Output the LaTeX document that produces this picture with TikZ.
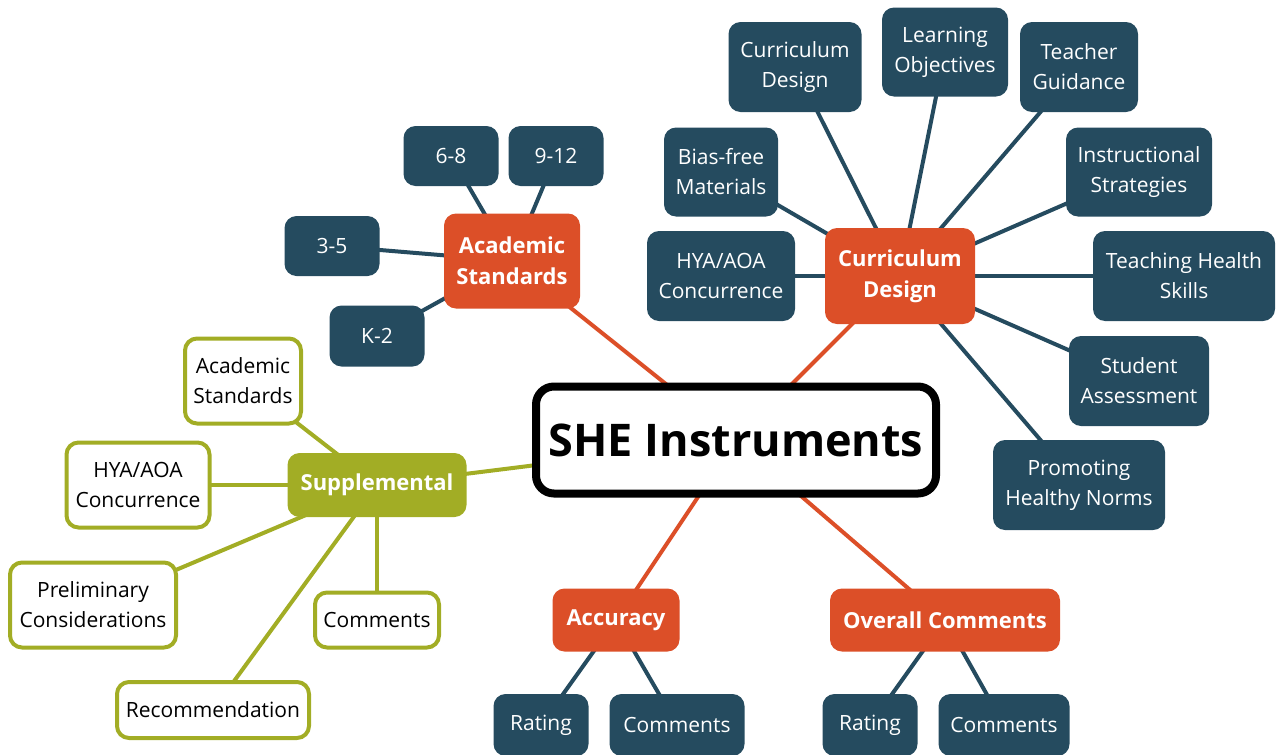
\documentclass[tikz,border=0pt]{standalone}
\usepackage{fontspec}
\setmainfont{Open Sans}
\usetikzlibrary{backgrounds}
\definecolor{org}{HTML}{DC4F28}
\definecolor{blu}{HTML}{254B5F}
\definecolor{olv}{HTML}{A2AD25}
\begin{document}
\begin{tikzpicture}[x=1pt,y=-1pt,
  base/.style={rectangle,rounded corners=12pt,align=center,inner sep=0pt,font=\fontsize{21}{30}\selectfont},
  bl/.style={base,fill=blu,text=white},
  og/.style={base,fill=org,text=white,font=\fontsize{22}{31}\selectfont\bfseries},
  sup/.style={base,fill=olv,text=white,font=\fontsize{22}{31}\selectfont\bfseries},
  gr/.style={base,draw=olv,line width=4pt,fill=white,text=black},
  ol/.style={org,line width=4pt},
  bll/.style={blu,line width=4pt},
  oll/.style={olv,line width=4pt},
  sz/.style 2 args={minimum width=#1pt,minimum height=#2pt}]
\useasboundingbox (0,0) rectangle (1278,755);
\clip (0,0) rectangle (1278,755);
% center
\node[draw=black,line width=8pt,rounded corners=18pt,fill=white,sz={400}{107},
  font=\fontsize{45}{50}\selectfont\bfseries,inner sep=0pt] (she) at (736,440) {SHE Instruments};
% main branches
\node[og,sz={136}{95}] (acs) at (512,261) {Academic\\Standards};
\node[og,sz={150}{96}] (cdo) at (900,276) {Curriculum\\Design};
\node[og,sz={127}{63}] (acc) at (616,620) {Accuracy};
\node[og,sz={230}{63}] (ovc) at (945,620) {Overall Comments};
\node[sup,sz={179}{64}] (sup) at (377,485) {Supplemental};
% academic standards children
\node[bl,sz={95}{60}] (g68) at (451,156) {6-8};
\node[bl,sz={95}{60}] (g912) at (556,156) {9-12};
\node[bl,sz={95}{60}] (g35) at (332,246) {3-5};
\node[bl,sz={95}{61}] (gk2) at (377,336) {K-2};
% curriculum design children
\node[bl,sz={133}{90}] (cd1) at (795,67) {Curriculum\\Design};
\node[bl,sz={126}{89}] (cd2) at (945,52) {Learning\\Objectives};
\node[bl,sz={118}{90}] (cd3) at (1079,67) {Teacher\\Guidance};
\node[bl,sz={114}{89}] (cd4) at (721,172) {Bias-free\\Materials};
\node[bl,sz={146}{89}] (cd5) at (1139,172) {Instructional\\Strategies};
\node[bl,sz={148}{90}] (cd6) at (721,276) {HYA/AOA\\Concurrence};
\node[bl,sz={182}{90}] (cd7) at (1184,276) {Teaching Health\\Skills};
\node[bl,sz={140}{90}] (cd8) at (1139,381) {Student\\Assessment};
\node[bl,sz={172}{90}] (cd9) at (1079,485) {Promoting\\Healthy Norms};
% accuracy / overall children
\node[bl,sz={95}{62}] (ar) at (541,725) {Rating};
\node[bl,sz={135}{62}] (ac) at (677,725) {Comments};
\node[bl,sz={95}{62}] (orr) at (870,725) {Rating};
\node[bl,sz={131}{62}] (oc) at (1004,725) {Comments};
% supplemental children
\node[gr,sz={116}{85}] (s1) at (243,381) {Academic\\Standards};
\node[gr,sz={143}{85}] (s2) at (138,485) {HYA/AOA\\Concurrence};
\node[gr,sz={166}{85}] (s3) at (93,605) {Preliminary\\Considerations};
\node[gr,sz={124}{55}] (s4) at (377,620) {Comments};
\node[gr,sz={192}{56}] (s5) at (213,710) {Recommendation};
\begin{scope}[on background layer]
  \draw[ol] (she.center) -- (acs.center);
  \draw[ol] (she.center) -- (cdo.center);
  \draw[ol] (she.center) -- (acc.center);
  \draw[ol] (she.center) -- (ovc.center);
  \draw[oll] (she.center) -- (sup.center);
  \foreach \n in {g68,g912,g35,gk2} \draw[bll] (acs.center) -- (\n.center);
  \foreach \n in {cd1,cd2,cd3,cd4,cd5,cd6,cd7,cd8,cd9} \draw[bll] (cdo.center) -- (\n.center);
  \draw[bll] (acc.center) -- (ar.center);
  \draw[bll] (acc.center) -- (ac.center);
  \draw[bll] (ovc.center) -- (orr.center);
  \draw[bll] (ovc.center) -- (oc.center);
  \foreach \n in {s1,s2,s3,s4,s5} \draw[oll] (sup.center) -- (\n.center);
\end{scope}
\end{tikzpicture}
\end{document}
